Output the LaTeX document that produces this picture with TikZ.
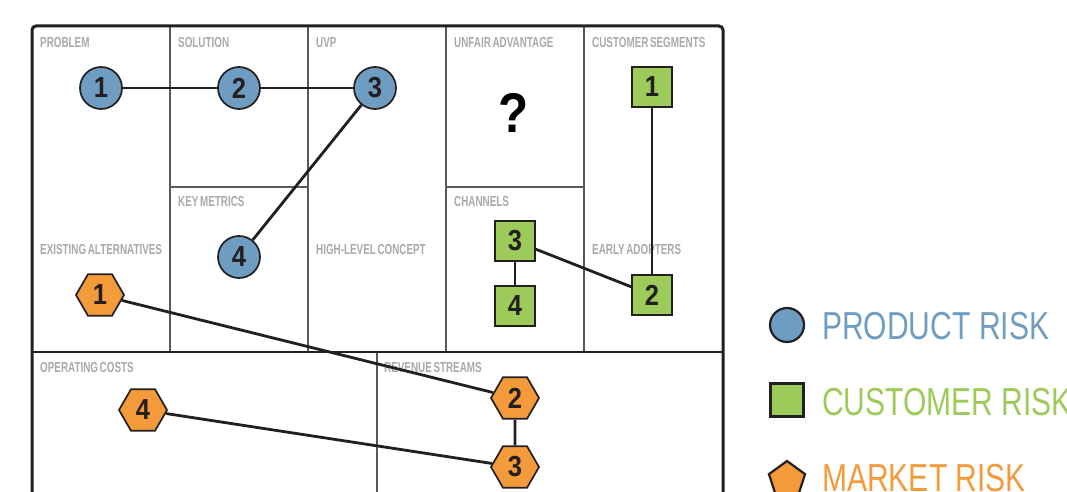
\documentclass[tikz,border=0pt]{standalone}
\usepackage{fontspec}
\usetikzlibrary{shapes.geometric}

\newfontfamily\boxfont{Liberation Sans Bold}[FakeStretch=0.68, WordSpace=0.6]
\newfontfamily\numfont{Liberation Sans Bold}[FakeStretch=0.88]
\newfontfamily\legendfont{Liberation Sans}[FakeStretch=0.77]

\definecolor{productblue}{HTML}{6F9DC1}
\definecolor{customergreen}{HTML}{9CCB5A}
\definecolor{marketorange}{HTML}{F39A3A}
\definecolor{labelgray}{HTML}{A7A9AC}
\definecolor{inkblack}{HTML}{231F20}
\definecolor{rulegray}{HTML}{58595B}

\tikzset{
    boxlabel/.style={anchor=west, inner sep=0pt, text=labelgray, font=\boxfont\fontsize{14.5}{15}\selectfont},
    riskshape/.style={draw=inkblack, line width=1.7pt, inner sep=0pt, text=inkblack, font=\numfont\fontsize{29}{29}\selectfont},
    productrisk/.style={riskshape, circle, fill=productblue, minimum size=42pt},
    customerrisk/.style={riskshape, rectangle, fill=customergreen, minimum size=40pt},
    marketrisk/.style={riskshape, regular polygon, regular polygon sides=6, fill=marketorange, minimum size=48pt},
    riskline/.style={draw=inkblack, line width=2.8pt},
    gridline/.style={draw=rulegray, line width=1.2pt},
    legendtext/.style={anchor=west, inner sep=0pt, font=\legendfont\fontsize{39}{40}\selectfont},
}

\begin{document}
\begin{tikzpicture}[x=1pt, y=-1pt]

    \useasboundingbox (0, 0) rectangle (1067, 492);
    \clip (0, 0) rectangle (1067, 492);

    % canvas grid
    \foreach \x in {170, 308, 446, 584}
        \draw [gridline] (\x, 26) -- (\x, 352);
    \draw [gridline] (170, 187) -- (308, 187);
    \draw [gridline] (446, 187) -- (584, 187);
    \draw [gridline] (377, 352) -- (377, 500);
    \draw [draw=inkblack, line width=1.6pt] (32, 352) -- (723, 352);
    \draw [draw=inkblack, line width=3pt, rounded corners=4pt] (32, 520) -- (32, 26) -- (723, 26) -- (723, 520);

    % box titles
    \node [boxlabel] (problem) at (40, 43) {PROBLEM};
    \node [boxlabel] (solution) at (178, 43) {SOLUTION};
    \node [boxlabel] (uvp) at (316, 43) {UVP};
    \node [boxlabel] (advantage) at (454, 43) {UNFAIR ADVANTAGE};
    \node [boxlabel] (segments) at (592, 43) {CUSTOMER SEGMENTS};
    \node [boxlabel] (metrics) at (178, 202) {KEY METRICS};
    \node [boxlabel] (channels) at (454, 202) {CHANNELS};
    \node [boxlabel] (alternatives) at (40, 250) {EXISTING ALTERNATIVES};
    \node [boxlabel] (concept) at (316, 250) {HIGH-LEVEL CONCEPT};
    \node [boxlabel] (adopters) at (592, 250) {EARLY ADOPTERS};
    \node [boxlabel] (costs) at (40, 368) {OPERATING COSTS};
    \node [boxlabel] (revenue) at (384, 368) {REVENUE STREAMS};

    \node (unknown) at (514, 113) [text=black, inner sep=0pt, font=\numfont\fontsize{56}{56}\selectfont] {?};

    % product risk
    \node [productrisk] (p1) at (101, 88) {1};
    \node [productrisk] (p2) at (239, 88) {2};
    \node [productrisk] (p3) at (375, 88) {3};
    \node [productrisk] (p4) at (239, 257) {4};

    % customer risk
    \node [customerrisk] (c1) at (652, 87) {1};
    \node [customerrisk] (c2) at (652, 295) {2};
    \node [customerrisk] (c3) at (515, 241) {3};
    \node [customerrisk] (c4) at (515, 306) {4};

    % market risk
    \node [marketrisk] (m1) at (100, 295) {1};
    \node [marketrisk] (m2) at (515, 398) {2};
    \node [marketrisk] (m3) at (515, 467) {3};
    \node [marketrisk] (m4) at (143, 410) {4};

    \draw [riskline] (p1) -- (p2);
    \draw [riskline] (p2) -- (p3);
    \draw [riskline] (p3) -- (p4);

    \draw [riskline] (c1) -- (c2);
    \draw [riskline] (c3) -- (c2);
    \draw [riskline] (c3) -- (c4);

    \draw [riskline] (m1) -- (m2);
    \draw [riskline] (m2) -- (m3);
    \draw [riskline] (m4) -- (m3);

    % legend
    \node [riskshape, circle, fill=productblue, line width=2.2pt, minimum size=34pt] (keyproduct) at (787, 325) {};
    \node [riskshape, rectangle, fill=customergreen, line width=2.2pt, minimum size=33pt] (keycustomer) at (787, 400) {};
    \node [riskshape, regular polygon, regular polygon sides=5, fill=marketorange, line width=2.2pt, minimum size=38pt] (keymarket) at (787, 480) {};

    \node [legendtext, text=productblue] (productlabel) at (822, 326) {PRODUCT RISK};
    \node [legendtext, text=customergreen] (customerlabel) at (822, 402) {CUSTOMER RISK};
    \node [legendtext, text=marketorange] (marketlabel) at (822, 478) {MARKET RISK};

\end{tikzpicture}
\end{document}
